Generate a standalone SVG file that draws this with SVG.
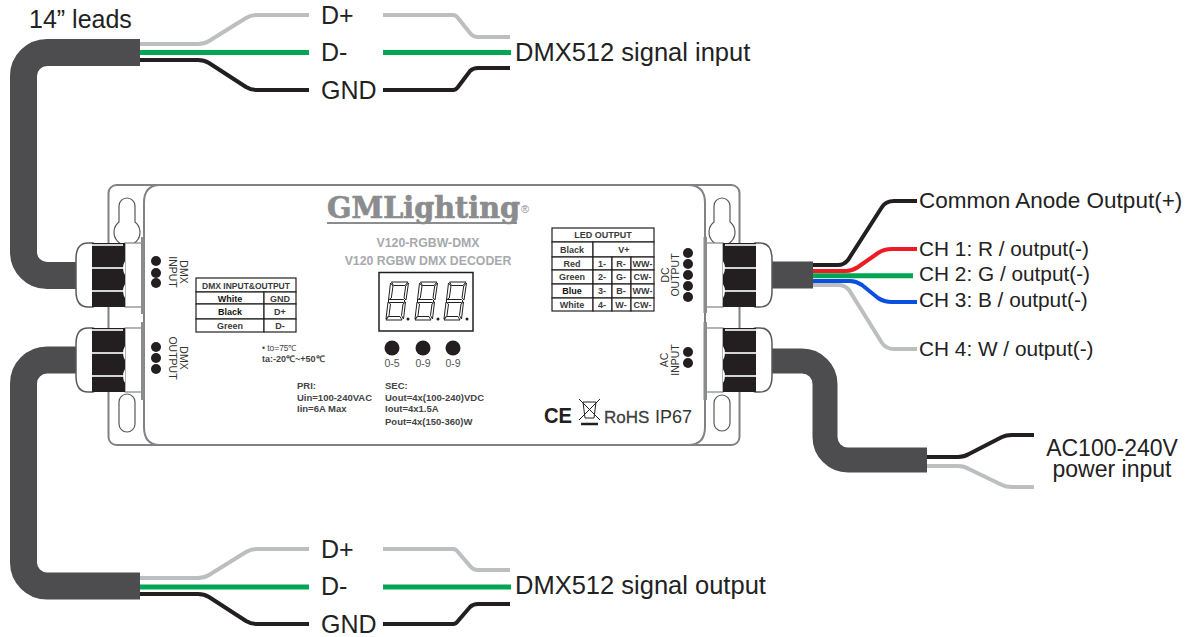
<svg xmlns="http://www.w3.org/2000/svg" width="1201" height="637" viewBox="0 0 1201 637">
<style>
text{font-family:"Liberation Sans",Arial,sans-serif;fill:#222}
.lab{font-size:25px}
.sig{font-size:25.500px}
.ch{font-size:20.800px}
.ac{font-size:23px}
.cable{fill:none;stroke:#4d4d4f;stroke-width:27}
.w{fill:none;stroke-width:4}
.k{stroke:#231f20}.g{stroke:#bcbec0}.gr{stroke:#00a651;stroke-width:5}.r{stroke:#ed1c24}.b{stroke:#0a4fe0}
.o{fill:#fff;stroke:#808285;stroke-width:2}
.dot{fill:#231f20}
.t{font-size:9px;font-weight:bold;fill:#3a3a3a}
.sp{font-size:9.500px;font-weight:bold;fill:#444}
.sw{font-size:10.500px;fill:#555}
.pl{font-size:10.500px;fill:#333;text-anchor:middle}
.c{text-anchor:middle}
.cell{fill:#fff;stroke:#231f20;stroke-width:1.200}
.seg{fill:#fff;stroke:#231f20;stroke-width:1}
.sub{font-size:12.300px;font-weight:bold;fill:#a7a9ac;text-anchor:middle}
</style>
<defs>
<g id="gland">
<rect x="0" y="0" width="17" height="64" fill="#fff" stroke="#808285" stroke-width="1.200"/>
<path d="M-32 0H-37Q-49 0-49 16V48Q-49 64-37 64H-32Z" fill="#fff" stroke="#58595b" stroke-width="1.500"/>
<rect x="-33" y="0" width="33" height="64" fill="#231f20"/>
<path d="M-33 2H-2M-33 25H-2M-33 48H-2" stroke="#d1d3d4" stroke-width="2"/>
<path d="M0 18Q-4 25 0 32ZM0 41Q-4 48 0 55Z" fill="#fff"/>
</g>
<g id="digit" class="seg">
<path d="M6.500 0H23L20 3.500H8.500Z"/>
<path d="M4.500 17.500H18.500L20 19L18.500 20.500H4.500L3 19Z"/>
<path d="M3.500 34.500H15L17 38H1Z"/>
<path d="M5.500 1L8 4L6.300 16L3.500 18Z"/>
<path d="M23.500 1L21 18L19 16L20.700 4Z"/>
<path d="M3 20L5.500 22L4 33.500L1 37Z"/>
<path d="M20.500 20L18 22L16.500 33.500L18.500 37Z"/>
</g>
</defs>

<g id="housing">
<rect x="108.500" y="185" width="631" height="260" rx="8" class="o"/>
<path d="M160 185H688Q705 185 705 203V427Q705 445 688 445H160Q144 445 144 427V203Q144 185 160 185Z" class="o"/>
</g>
<g id="mount-holes" fill="#fff" stroke="#58595b" stroke-width="1.200">
<path d="M119 222V206A8 8 0 0 1 135 206V222A13 13 0 1 1 119 222Z"/>
<rect x="119" y="394" width="16" height="38" rx="8"/>
<path d="M714 222V206A8 8 0 0 1 730 206V222A13 13 0 1 1 714 222Z"/>
<rect x="714" y="395" width="16" height="36" rx="8"/>
</g>

<g id="connectors">
<path class="cable" d="M76 275.500H47A23.500 23.500 0 0 1 23.500 252V76A23.500 23.500 0 0 1 47 52.500H140"/>
<path class="cable" d="M76 360H47A23.500 23.500 0 0 0 23.500 383.500V562.500A23.500 23.500 0 0 0 47 586H140"/>
<path class="cable" style="stroke-width:25" d="M771 361H802A23 23 0 0 1 825 384V437A23 23 0 0 0 848 460H927"/>
<path class="cable" d="M771 275H813"/>
<g id="wires-top">
<path class="w g" d="M140 44H198Q204 44 209 41L246 18Q251 15 257 15H309"/>
<path class="w gr" d="M140 52.500H309"/>
<path class="w k" d="M140 60H198Q204 60 209 63L246 87Q251 90 257 90H309"/>
<path class="w g" d="M383 15H453Q456 15 458 18L470 33Q473 37 478 37H510"/>
<path class="w gr" d="M383 52.500H511"/>
<path class="w k" d="M383 90H453Q456 90 458 87L470 71Q473 68 478 68H510"/>
</g>
<g id="wires-bottom">
<path class="w g" d="M140 578H198Q204 578 209 575L246 552Q251 549 257 549H309"/>
<path class="w gr" d="M140 587H309"/>
<path class="w k" d="M140 594H198Q204 594 209 597L246 621Q251 624 257 624H309"/>
<path class="w g" d="M383 549H453Q456 549 458 552L470 566Q473 570 478 570H510"/>
<path class="w gr" d="M383 587H511"/>
<path class="w k" d="M383 624H453Q456 624 458 621L470 607Q473 604 478 604H510"/>
</g>
<g id="wires-dc">
<path class="w k" d="M813 265H838Q844 265 848 260L882 207Q886 201 894 201H917"/>
<path class="w g" d="M813 285H838Q845 285 849 290L882 343Q886 349 894 349H917"/>
<path class="w r" d="M813 271H846Q852 271 858 267L878 253Q884 249 892 249H917"/>
<path class="w b" d="M813 281H850Q856 281 862 285L878 298Q884 302 892 302H917"/>
<path class="w gr" d="M813 275.700H913"/>
</g>
<g id="wires-ac">
<path class="w k" d="M927 457H958Q964 457 969 454L1002 437Q1006 435 1012 435H1034"/>
<path class="w g" d="M927 466H958Q964 466 969 469L1002 485Q1006 487 1012 487H1034"/>
</g>
</g>

<g id="glands">
<use href="#gland" transform="translate(125,243)"/>
<use href="#gland" transform="translate(125,328)"/>
<use href="#gland" transform="translate(723,243) scale(-1,1)"/>
<use href="#gland" transform="translate(723,328) scale(-1,1)"/>
</g>
<g id="bars" fill="#8a8c8e">
<rect x="141" y="237" width="3.500" height="77"/><rect x="141" y="322" width="3.500" height="78"/>
<rect x="703.500" y="237" width="3.500" height="76"/><rect x="703.500" y="322" width="3.500" height="78"/>
</g>

<g id="logo">
<text x="327" y="218" textLength="193" lengthAdjust="spacingAndGlyphs" style="font-family:'DejaVu Serif',serif;font-weight:bold;font-size:29px;fill:#8a8c8e;stroke:#8a8c8e;stroke-width:.7">GMLighting</text>
<path d="M327 223H517" stroke="#8a8c8e" stroke-width="2"/>
<text x="521" y="213" style="font-size:11px;fill:#8a8c8e">®</text>
<text x="428" y="247" class="sub">V120-RGBW-DMX</text>
<text x="428" y="265" class="sub">V120 RGBW DMX DECODER</text>
</g>
<g id="display">
<rect x="379" y="272.500" width="94" height="58.500" fill="#fff" stroke="#231f20" stroke-width="1.500"/>
<use href="#digit" transform="translate(385,282)"/>
<use href="#digit" transform="translate(414,282)"/>
<use href="#digit" transform="translate(443,282)"/>
<circle cx="408" cy="319" r="1.500" class="dot"/><circle cx="438" cy="319" r="1.500" class="dot"/><circle cx="467" cy="319" r="1.500" class="dot"/>
</g>
<g id="switches">
<circle cx="392" cy="348" r="7.500" class="dot"/><circle cx="423" cy="348" r="7.500" class="dot"/><circle cx="453" cy="348" r="7.500" class="dot"/>
<text x="392" y="367" class="c sw">0-5</text><text x="423" y="367" class="c sw">0-9</text><text x="453" y="367" class="c sw">0-9</text>
</g>
<g id="port-dots">
<circle cx="156" cy="261" r="5" class="dot"/><circle cx="156" cy="273" r="5" class="dot"/><circle cx="156" cy="283" r="5" class="dot"/>
<circle cx="156" cy="347" r="5" class="dot"/><circle cx="156" cy="358" r="5" class="dot"/><circle cx="156" cy="369" r="5" class="dot"/>
<circle cx="688" cy="253" r="5" class="dot"/><circle cx="688" cy="264" r="5" class="dot"/><circle cx="688" cy="275" r="5" class="dot"/><circle cx="688" cy="286" r="5" class="dot"/><circle cx="688" cy="297" r="5" class="dot"/>
<circle cx="688" cy="352" r="5" class="dot"/><circle cx="688" cy="363" r="5" class="dot"/>
</g>
<g id="port-labels">
<text transform="translate(168.500,272) rotate(90)" class="pl">INPUT</text>
<text transform="translate(179.500,272) rotate(90)" class="pl">DMX</text>
<text transform="translate(168.500,358) rotate(90)" class="pl">OUTPUT</text>
<text transform="translate(179.500,358) rotate(90)" class="pl">DMX</text>
<text transform="translate(669,275) rotate(-90)" class="pl">DC</text>
<text transform="translate(679,275) rotate(-90)" class="pl">OUTPUT</text>
<text transform="translate(668,360) rotate(-90)" class="pl">AC</text>
<text transform="translate(679,360) rotate(-90)" class="pl">INPUT</text>
</g>
<g id="dmx-table">
<rect x="196" y="278" width="100" height="14" class="cell"/>
<rect x="196" y="292" width="68" height="12" class="cell"/><rect x="264" y="292" width="32" height="12" class="cell"/>
<rect x="196" y="304" width="68" height="15" class="cell"/><rect x="264" y="304" width="32" height="15" class="cell"/>
<rect x="196" y="319" width="68" height="13" class="cell"/><rect x="264" y="319" width="32" height="13" class="cell"/>
<text x="246" y="288.500" class="c t" style="font-size:8.500px">DMX INPUT&amp;OUTPUT</text>
<text x="230" y="301.500" class="c t" style="fill:#111">White</text><text x="280" y="301.500" class="c t">GND</text>
<text x="230" y="315" class="c t" style="fill:#111">Black</text><text x="280" y="315" class="c t">D+</text>
<text x="230" y="329" class="c t">Green</text><text x="280" y="329" class="c t">D-</text>
</g>
<g id="led-table">
<rect x="552" y="228" width="102" height="14" class="cell"/>
<rect x="552" y="242" width="41" height="15" class="cell"/><rect x="593" y="242" width="61" height="15" class="cell"/>
<g id="led-rows">
<rect x="552" y="257" width="41" height="13" class="cell"/><rect x="593" y="257" width="19" height="13" class="cell"/><rect x="612" y="257" width="19" height="13" class="cell"/><rect x="631" y="257" width="23" height="13" class="cell"/>
<rect x="552" y="270" width="41" height="14" class="cell"/><rect x="593" y="270" width="19" height="14" class="cell"/><rect x="612" y="270" width="19" height="14" class="cell"/><rect x="631" y="270" width="23" height="14" class="cell"/>
<rect x="552" y="284" width="41" height="14" class="cell"/><rect x="593" y="284" width="19" height="14" class="cell"/><rect x="612" y="284" width="19" height="14" class="cell"/><rect x="631" y="284" width="23" height="14" class="cell"/>
<rect x="552" y="298" width="41" height="13" class="cell"/><rect x="593" y="298" width="19" height="13" class="cell"/><rect x="612" y="298" width="19" height="13" class="cell"/><rect x="631" y="298" width="23" height="13" class="cell"/>
</g>
<text x="603" y="238" class="c t">LED OUTPUT</text>
<text x="572" y="252.500" class="c t">Black</text><text x="624" y="252.500" class="c t">V+</text>
<text x="572" y="266.500" class="c t">Red</text><text x="602" y="266.500" class="c t">1-</text><text x="621" y="266.500" class="c t">R-</text><text x="642.500" y="266.500" class="c t">WW-</text>
<text x="572" y="280" class="c t">Green</text><text x="602" y="280" class="c t">2-</text><text x="621" y="280" class="c t">G-</text><text x="642.500" y="280" class="c t">CW-</text>
<text x="572" y="294" class="c t" style="fill:#111">Blue</text><text x="602" y="294" class="c t">3-</text><text x="621" y="294" class="c t">B-</text><text x="642.500" y="294" class="c t">WW-</text>
<text x="572" y="308" class="c t">White</text><text x="602" y="308" class="c t">4-</text><text x="621" y="308" class="c t">W-</text><text x="642.500" y="308" class="c t">CW-</text>
</g>
<g id="specs">
<text x="262" y="351" class="sp" style="font-size:8.400px;font-weight:normal">• to=75℃</text>
<text x="262" y="362" class="sp" style="font-size:9px">ta:-20℃~+50℃</text>
<text x="297" y="388.500" class="sp">PRI:</text>
<text x="297" y="401" class="sp">Uin=100-240VAC</text>
<text x="297" y="412" class="sp">Iin=6A Max</text>
<text x="385" y="388.500" class="sp">SEC:</text>
<text x="385" y="401" class="sp">Uout=4x(100-240)VDC</text>
<text x="385" y="412" class="sp">Iout=4x1.5A</text>
<text x="385" y="424.500" class="sp">Pout=4x(150-360)W</text>
</g>
<g id="marks">
<text x="544" y="423" textLength="28" lengthAdjust="spacingAndGlyphs" style="font-size:22px;font-weight:bold;fill:#231f20">CE</text>
<g fill="none" stroke="#231f20" stroke-width="1"><path d="M583 402H596L594 418H585ZM579 399L600 420M600 399L579 420"/><path d="M581 424H598" stroke-width="2.500"/></g>
<text x="604" y="423" style="font-size:17px;fill:#404041;stroke:#404041;stroke-width:.3">RoHS</text>
<text x="655" y="423" style="font-size:18px;fill:#333">IP67</text>
</g>
<g id="labels">
<text x="29" y="28" class="lab">14” leads</text>
<text x="321" y="24" class="lab">D+</text><text x="321" y="61" class="lab">D-</text><text x="321" y="99" class="lab">GND</text>
<text x="515" y="61" class="sig">DMX512 signal input</text>
<text x="321" y="558" class="lab">D+</text><text x="321" y="595" class="lab">D-</text><text x="321" y="633" class="lab">GND</text>
<text x="515" y="594" class="sig">DMX512 signal output</text>
<text x="919" y="208" class="ch" style="font-size:22.500px">Common Anode Output(+)</text>
<text x="919" y="256" class="ch">CH 1: R / output(-)</text>
<text x="919" y="281" class="ch">CH 2: G / output(-)</text>
<text x="919" y="307" class="ch">CH 3: B / output(-)</text>
<text x="919" y="356" class="ch">CH 4: W / output(-)</text>
<text class="c ac"><tspan x="1112" y="456">AC100-240V</tspan><tspan x="1112" y="477">power input</tspan></text>
</g>
</svg>
